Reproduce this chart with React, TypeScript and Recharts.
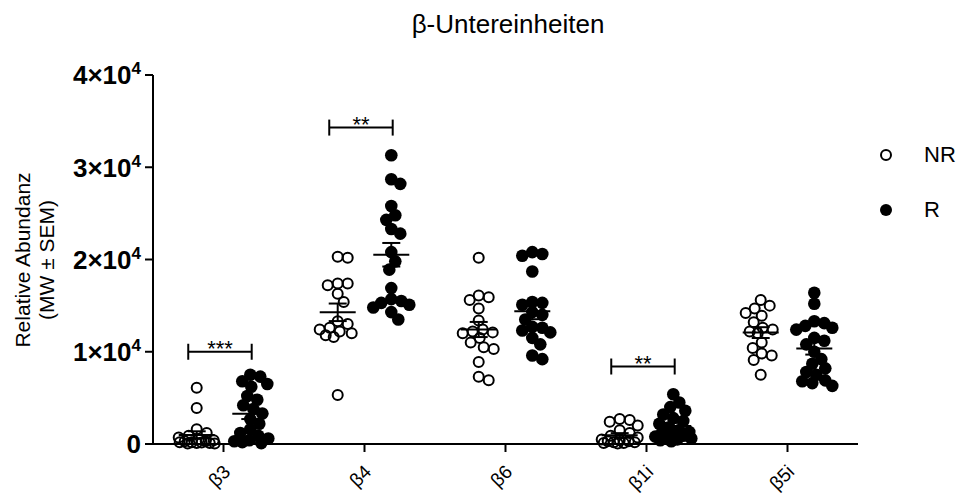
import React from 'react';
import { ScatterChart, Scatter, XAxis, YAxis, ErrorBar, ReferenceLine } from 'recharts';

const categories = ['β3', 'β4', 'β6', 'β1i', 'β5i'];

const nrB3 = [6100, 3900, 1600, 1200, 900, 700, 500, 400, 300, 300, 200, 200, 150, 100, 100, 50, 50];
const rB3 = [7500, 7300, 6800, 6500, 6200, 5200, 4800, 4200, 3800, 3300, 2700, 2200, 1600, 1200, 900, 600, 400, 300, 200, 100];
const nrB4 = [20300, 20200, 17400, 17400, 17200, 16300, 15400, 13300, 13000, 12600, 12400, 12200, 12000, 11800, 11600, 5300];
const rB4 = [31300, 28700, 28200, 25800, 24800, 24300, 23300, 22800, 20800, 19800, 18900, 16900, 15700, 15500, 15300, 15100, 14800, 14300, 13500];
const nrB6 = [20200, 16100, 15900, 15600, 14700, 13400, 12400, 12200, 12100, 12000, 11500, 11000, 10500, 10300, 8900, 7300, 6900];
const rB6 = [20800, 20600, 20400, 18700, 15400, 15300, 15100, 14300, 14000, 13500, 12700, 12600, 12300, 12100, 11500, 10800, 9600, 9200];
const nrB1i = [2700, 2600, 2400, 2000, 1500, 1200, 900, 700, 500, 400, 300, 300, 200, 200, 100, 100, 50];
const rB1i = [5400, 4500, 4000, 3600, 3200, 2800, 2500, 2200, 1800, 1500, 1300, 1100, 1000, 900, 800, 700, 600, 500, 400, 300];
const nrB5i = [15600, 15000, 14700, 14200, 13900, 13200, 12600, 12400, 12200, 12000, 11000, 10400, 9800, 9600, 9100, 7500];
const rB5i = [16400, 15200, 13300, 13100, 12800, 12600, 12400, 11500, 11200, 10800, 10000, 9200, 8700, 8200, 7800, 7500, 6900, 6800, 6600, 6300];

const nrGroups = [nrB3, nrB4, nrB6, nrB1i, nrB5i];
const rGroups = [rB3, rB4, rB6, rB1i, rB5i];

const sigLabels = ['***', '**', '', '**', ''];
const sigLevels = [10000, 34300, 0, 8400, 0];

const yTicks = [0, 10000, 20000, 30000, 40000];

// layout constants
const W = 966;
const H = 497;
const MARGIN = { top: 75, right: 108, bottom: 0, left: 0 };
const YAXIS_W = 153;
const XAXIS_H = 53;
const PLOT_W = W - MARGIN.right - YAXIS_W;
const PLOT_H = H - MARGIN.top - MARGIN.bottom - XAXIS_H;
const Y_MAX = 40000;
const X_MAX = 5;
const kY = PLOT_H / Y_MAX;
const kX = PLOT_W / X_MAX;
const GROUP_OFF = 0.19;
const FONT = 'Arial, "Liberation Sans", Helvetica, sans-serif';

function swarm(values: number[], center: number) {
  const minDist = 10;
  const maxOff = 18;
  const cands: number[] = [0];
  for (let i = 1; i <= maxOff; i++) { cands.push(i, -i); }
  const sorted = [...values].sort((a, b) => b - a);
  const placed: { px: number; py: number; v: number }[] = [];
  for (const v of sorted) {
    const py = v * kY;
    let best = 0;
    let bestScore = -1;
    for (const o of cands) {
      let md = Infinity;
      for (const p of placed) {
        const d = Math.hypot(p.px - o, p.py - py);
        if (d < md) md = d;
      }
      if (md >= minDist) { best = o; break; }
      if (md > bestScore) { bestScore = md; best = o; }
    }
    placed.push({ px: best, py, v });
  }
  return placed.map((p) => ({ x: center + p.px / kX, y: p.v }));
}

function mean(v: number[]) { return v.reduce((a, b) => a + b, 0) / v.length; }
function sem(v: number[]) {
  const m = mean(v);
  const s = Math.sqrt(v.reduce((a, b) => a + (b - m) * (b - m), 0) / (v.length - 1));
  return s / Math.sqrt(v.length);
}

const nrPoints = nrGroups.flatMap((g, i) => swarm(g, i + 0.5 - GROUP_OFF));
const rPoints = rGroups.flatMap((g, i) => swarm(g, i + 0.5 + GROUP_OFF));
const nrMeans = nrGroups.map((g, i) => ({ x: i + 0.5 - GROUP_OFF, y: mean(g), sem: sem(g) }));
const rMeans = rGroups.map((g, i) => ({ x: i + 0.5 + GROUP_OFF, y: mean(g), sem: sem(g) }));

const OpenDot = (p: any) => <circle cx={p.cx} cy={p.cy} r={5} fill="#fff" fillOpacity={0} stroke="#000" strokeWidth={2} />;
const FilledDot = (p: any) => <circle cx={p.cx} cy={p.cy} r={6.3} fill="#000" />;
const MeanLine = (p: any) => <line x1={p.cx - 18} x2={p.cx + 18} y1={p.cy} y2={p.cy} stroke="#000" strokeWidth={2} />;

const YTick = (p: any) => {
  const v = p.payload.value;
  const tx = p.x - 2;
  if (v === 0) {
    return <text x={tx} y={p.y} dy="0.36em" textAnchor="end" fontFamily={FONT} fontWeight="bold" fontSize={26} fill="#000">0</text>;
  }
  return (
    <text x={tx} y={p.y} dy="0.36em" textAnchor="end" fontFamily={FONT} fontWeight="bold" fontSize={26} fill="#000">
      <tspan>{`${v / 10000}×10`}</tspan>
      <tspan dy={-10} fontSize={17}>4</tspan>
    </text>
  );
};

const XTick = (p: any) => {
  const idx = Math.round(p.payload.value - 0.5);
  const ax = p.x + 8;
  const ay = p.y + 19;
  return (
    <text x={ax} y={ay} textAnchor="end" fontFamily={FONT} fontSize={19} fill="#000" transform={`rotate(-45, ${ax}, ${ay})`}>
      {categories[idx]}
    </text>
  );
};

const YLabel = () => (
  <g>
    <text transform={`translate(30, 260) rotate(-90)`} textAnchor="middle" fontFamily={FONT} fontSize={21} fill="#000">Relative Abundanz</text>
    <text transform={`translate(54, 260) rotate(-90)`} textAnchor="middle" fontFamily={FONT} fontSize={21} fill="#000">(MW ± SEM)</text>
  </g>
);

const LegendBox = () => (
  <div style={{ position: 'absolute', left: 876, top: 140, width: 90, height: 100, fontFamily: FONT, fontSize: 22, color: '#000' }}>
    <svg width={20} height={20} style={{ position: 'absolute', left: 0, top: 5 }}>
      <circle cx={10} cy={10} r={5} fill="#fff" stroke="#000" strokeWidth={2} />
    </svg>
    <div style={{ position: 'absolute', left: 48, top: 2, lineHeight: '26px' }}>NR</div>
    <svg width={20} height={20} style={{ position: 'absolute', left: 0, top: 60 }}>
      <circle cx={10} cy={10} r={6} fill="#000" />
    </svg>
    <div style={{ position: 'absolute', left: 48, top: 57, lineHeight: '26px' }}>R</div>
  </div>
);

const StarLabel = (text: string) => (props: any) => {
  const vb = props.viewBox || {};
  return (
    <text x={vb.x + vb.width / 2} y={vb.y + 4} textAnchor="middle" fontFamily={FONT} fontSize={22} fill="#000">{text}</text>
  );
};

export default function App() {
  const brackets: React.ReactNode[] = [];
  sigLabels.forEach((lab, i) => {
    if (!lab) return;
    const c = i + 0.5;
    const h = sigLevels[i];
    const x1 = c - 0.25;
    const x2 = c + 0.2;
    const t = 8 / kY;
    brackets.push(
      <ReferenceLine key={`h${i}`} segment={[{ x: x1, y: h }, { x: x2, y: h }]} stroke="#000" strokeWidth={2} label={StarLabel(lab)} />,
      <ReferenceLine key={`l${i}`} segment={[{ x: x1, y: h - t }, { x: x1, y: h + t }]} stroke="#000" strokeWidth={2} />,
      <ReferenceLine key={`r${i}`} segment={[{ x: x2, y: h - t }, { x: x2, y: h + t }]} stroke="#000" strokeWidth={2} />
    );
  });

  return (
    <div style={{ position: 'absolute', left: 0, top: 0, width: W, height: H, background: '#fff' }}>
      <div style={{ position: 'absolute', left: 308, top: 11, width: 400, textAlign: 'center', fontFamily: FONT, fontSize: 26, lineHeight: '26px', color: '#000' }}>
        β-Untereinheiten
      </div>
      <ScatterChart width={W} height={H} margin={MARGIN}>
        <XAxis
          type="number"
          dataKey="x"
          domain={[0, X_MAX]}
          ticks={[0.5, 1.5, 2.5, 3.5, 4.5]}
          allowDecimals
          tick={<XTick />}
          tickSize={8}
          height={XAXIS_H}
          axisLine={{ stroke: '#000', strokeWidth: 2 }}
          tickLine={{ stroke: '#000', strokeWidth: 2 }}
          interval={0}
        />
        <YAxis
          type="number"
          dataKey="y"
          domain={[0, Y_MAX]}
          ticks={yTicks}
          width={YAXIS_W}
          tick={<YTick />}
          tickSize={8}
          axisLine={{ stroke: '#000', strokeWidth: 2 }}
          tickLine={{ stroke: '#000', strokeWidth: 2 }}
          interval={0}
          label={<YLabel />}
        />
        <Scatter name="NR" data={nrPoints} shape={<OpenDot />} isAnimationActive={false} />
        <Scatter name="R" data={rPoints} shape={<FilledDot />} isAnimationActive={false} />
        <Scatter name="NR mean" data={nrMeans} shape={<MeanLine />} isAnimationActive={false}>
          <ErrorBar dataKey="sem" direction="y" width={9} stroke="#000" strokeWidth={2} />
        </Scatter>
        <Scatter name="R mean" data={rMeans} shape={<MeanLine />} isAnimationActive={false}>
          <ErrorBar dataKey="sem" direction="y" width={9} stroke="#000" strokeWidth={2} />
        </Scatter>
        {brackets}
      </ScatterChart>
      <LegendBox />
    </div>
  );
}
